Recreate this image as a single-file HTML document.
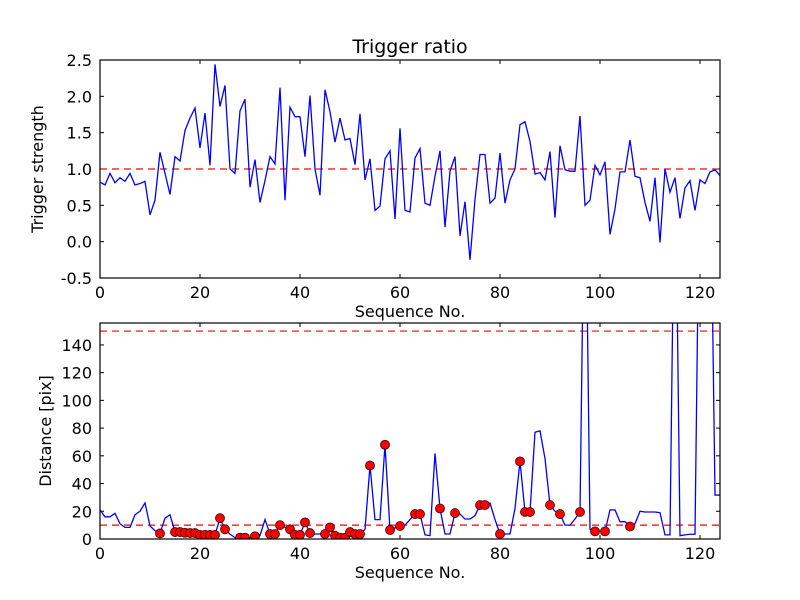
<!DOCTYPE html>
<html><head><meta charset="utf-8">
<style>
html,body{margin:0;padding:0;background:#fff;}
svg{display:block;font-family:"DejaVu Sans","Liberation Sans",sans-serif;}
</style></head>
<body>
<svg id="chart" width="800" height="600" viewBox="0 0 800 600">
<rect width="800" height="600" fill="#fff"/>
<defs>
<clipPath id="clipTop"><rect x="100" y="60" width="620" height="218"/></clipPath>
<clipPath id="clipBot"><rect x="100" y="323" width="620" height="216"/></clipPath>
</defs>
<text x="410" y="53" font-size="19" text-anchor="middle">Trigger ratio</text>
<g id="top"></g>
<g id="bot"></g>
</svg>
<script>
const strength = [0.82,0.78,0.94,0.81,0.88,0.83,0.94,0.78,0.80,0.83,0.37,0.57,1.23,0.94,0.65,1.17,1.11,1.53,1.70,1.84,1.29,1.77,1.05,2.44,1.86,2.15,1.0,0.94,1.80,1.96,0.75,1.13,0.54,0.84,1.17,1.07,2.12,0.57,1.85,1.72,1.72,1.17,2.01,1.0,0.64,2.09,1.79,1.37,1.70,1.40,1.42,1.06,1.76,0.85,1.14,0.43,0.49,1.14,1.25,0.31,1.56,0.43,0.41,1.15,1.28,0.53,0.50,0.9,1.25,0.2,0.97,1.17,0.08,0.55,-0.25,0.58,1.2,1.2,0.53,0.6,1.22,0.53,0.85,1.0,1.61,1.65,1.38,0.93,0.95,0.85,1.24,0.33,1.32,0.99,0.97,0.97,1.73,0.5,0.57,1.05,0.92,1.1,0.1,0.45,0.96,0.96,1.4,0.9,0.88,0.54,0.28,0.88,-0.01,1.0,0.68,0.88,0.32,0.74,0.84,0.43,0.85,0.8,0.96,0.99,0.91];
const distance = [21,16,16,18.5,11,8.4,8.4,17.5,20,26,9.4,6,4,15,17.5,5,5,4.5,4.3,4.3,3,3,3,3,15,7,3.5,1,1,1,1,2,2.5,14,3.6,3.6,10,8.5,7,3,3,12,4.3,3.6,3.6,3.6,8.4,2.4,1,1,5,3.6,3.6,7,53,14,14,68,6.5,8,9.4,
10,14,18,18,3,2.4,61.7,22,3.6,3.6,18.7,18,14.4,14.4,16.8,24.5,24.5,26,14,3.6,3.6,3.6,22,56,19.5,19.5,77,78,58,24.5,20,18,10,10,14.4,19.5,300,7,5.5,5.5,5.5,21,21,12.5,12.5,9,11,20,19.5,19.5,19.5,19,3,3,300,2.4,3,3.4,3.4,300,300,300,31.7,31.7];
const markerIdx = [12,15,16,17,18,19,20,21,22,23,24,25,28,29,31,34,35,36,38,39,40,41,42,45,46,47,48,49,50,51,52,54,57,58,60,63,64,68,71,76,77,80,84,85,86,90,92,96,99,101,106];
const xTicks = [0,20,40,60,80,100,120];
const topYTicks = [-0.5,0.0,0.5,1.0,1.5,2.0,2.5];
const botYTicks = [0,20,40,60,80,100,120,140];
const topThreshold = [1.0];
const botThresholds = [150,10];

const NS="http://www.w3.org/2000/svg";
function mk(tag,attrs,parent){const e=document.createElementNS(NS,tag);for(const k in attrs)e.setAttribute(k,attrs[k]);parent.appendChild(e);return e;}
const L=100,R=720,xmin=0,xmax=124;
const X=v=>L+(v-xmin)/(xmax-xmin)*(R-L);

function panel(g,T,B,ymin,ymax,yTicks,fmt,ylabel,ylx){
  const Y=v=>B-(v-ymin)/(ymax-ymin)*(B-T);
  xTicks.forEach(t=>{
    const x=X(t);
    const a=mk('line',{x1:x,x2:x,y1:B,y2:B-4,stroke:'#000','stroke-width':1},g);
    
    const b=mk('line',{x1:x,x2:x,y1:T,y2:T+4,stroke:'#000','stroke-width':1},g);
    
    const l=mk('text',{x:x,y:B+20,'font-size':16,'text-anchor':'middle'},g);l.textContent=t;
    
  });
  yTicks.forEach(t=>{
    const y=Y(t);
    const a=mk('line',{x1:L,x2:L+4,y1:y,y2:y,stroke:'#000','stroke-width':1},g);
    
    const b=mk('line',{x1:R,x2:R-4,y1:y,y2:y,stroke:'#000','stroke-width':1},g);
    
    const l=mk('text',{x:L-8,y:y+6,'font-size':16,'text-anchor':'end'},g);l.textContent=fmt(t);
    
  });
  const xl=mk('text',{x:410,y:B+39,'font-size':16,'text-anchor':'middle'},g);xl.textContent='Sequence No.';
  
  const yc=(T+B)/2;
  const yl=mk('text',{x:ylx,y:yc,'font-size':16,'text-anchor':'middle',transform:`rotate(-90 ${ylx} ${yc})`},g);yl.textContent=ylabel;
  
  return Y;
}

const gt=document.getElementById('top');
const Yt=panel(gt,60,278,-0.5,2.5,topYTicks,v=>v.toFixed(1),'Trigger strength',43);
topThreshold.forEach(v=>{
  const d=mk('line',{x1:L,x2:R,y1:Yt(v),y2:Yt(v),stroke:'#ff0000','stroke-width':1.2,'stroke-dasharray':'7,5'},gt);
  
});
const pt=mk('polyline',{points:strength.map((v,i)=>X(i)+','+Yt(v)).join(' '),fill:'none',stroke:'#0000ff','stroke-width':1.3,'clip-path':'url(#clipTop)'},gt);

const ft=mk('rect',{x:L,y:60,width:R-L,height:218,fill:'none',stroke:'#000','stroke-width':1.2},gt);


const gb=document.getElementById('bot');
const Yb=panel(gb,323,539,0,155.8,botYTicks,v=>String(v),'Distance [pix]',51);
botThresholds.forEach(v=>{
  const d=mk('line',{x1:L,x2:R,y1:Yb(v),y2:Yb(v),stroke:'#ff0000','stroke-width':1.2,'stroke-dasharray':'7,5'},gb);
  
});
const pb=mk('polyline',{points:distance.map((v,i)=>X(i)+','+Yb(v)).join(' '),fill:'none',stroke:'#0000ff','stroke-width':1.3,'clip-path':'url(#clipBot)'},gb);

const mg=mk('g',{'clip-path':'url(#clipBot)'},gb);
markerIdx.forEach(i=>{
  const c=mk('circle',{cx:X(i),cy:Yb(distance[i]),r:4.5,fill:'#ff0000',stroke:'#3a0000','stroke-width':0.8},mg);
  
  
});
const fb=mk('rect',{x:L,y:323,width:R-L,height:216,fill:'none',stroke:'#000','stroke-width':1.2},gb);

</script>
</body></html>
